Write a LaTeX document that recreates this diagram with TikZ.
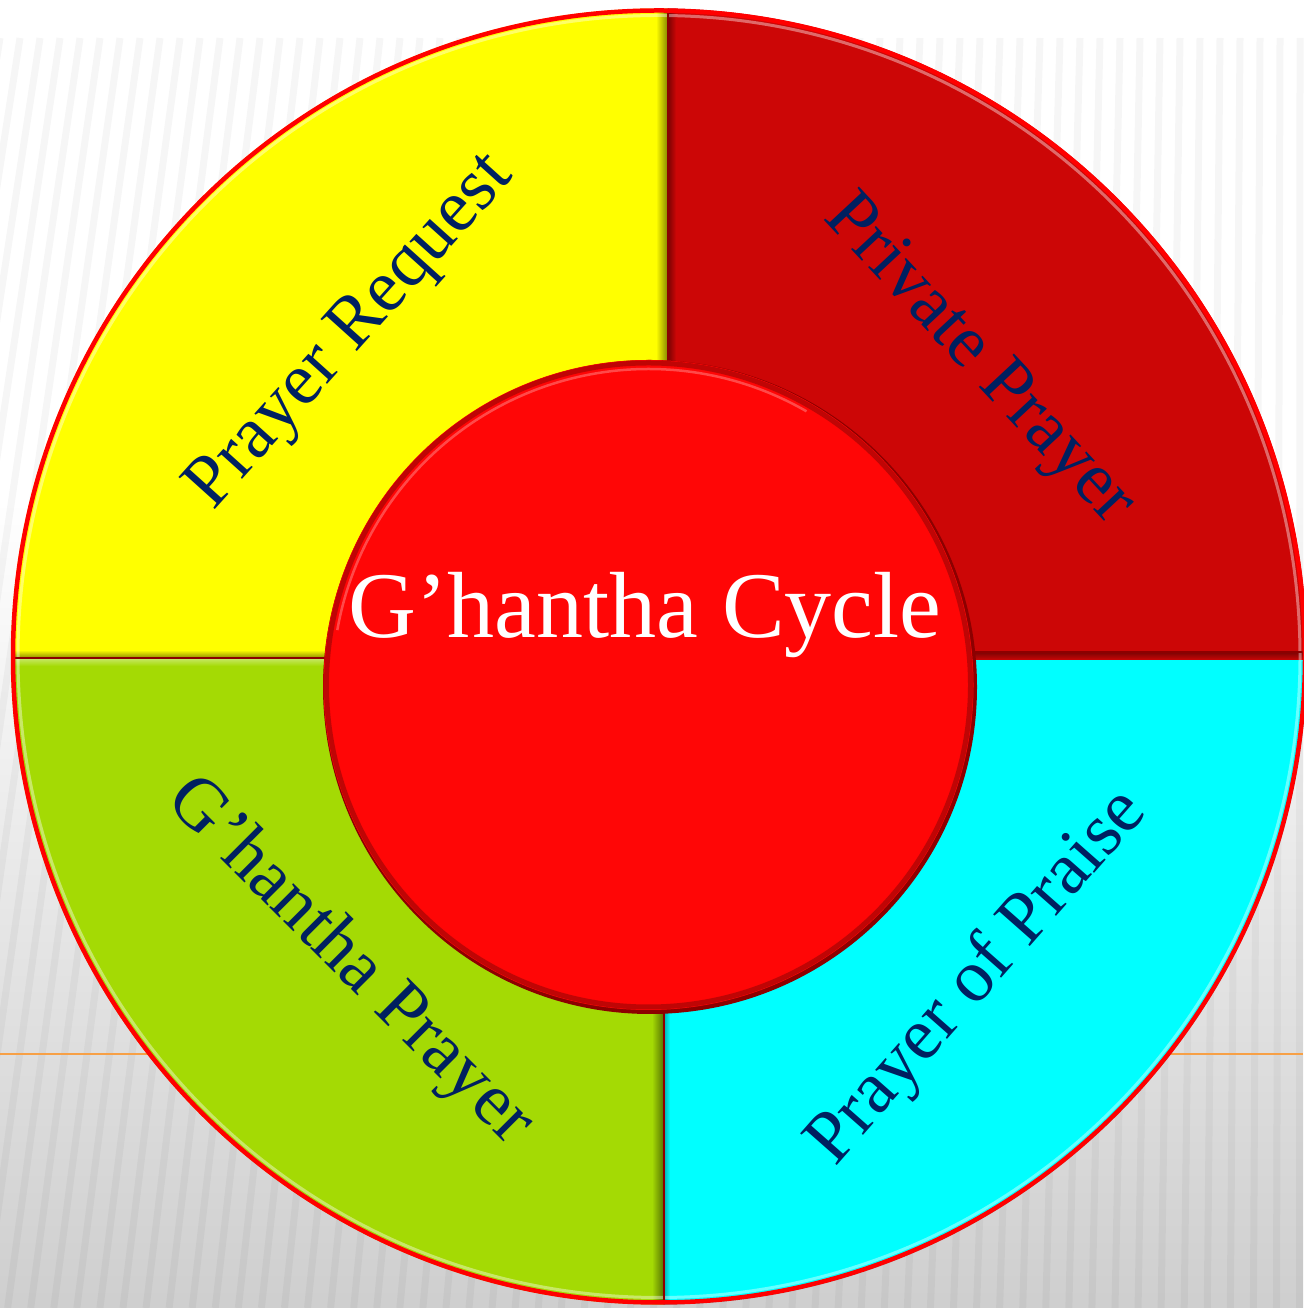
\documentclass[tikz,border=0pt]{standalone}
\usepackage{fontspec}
\setmainfont{Liberation Serif}
\definecolor{cyel}{RGB}{255,255,0}
\definecolor{cdred}{RGB}{204,6,6}
\definecolor{cgreen}{RGB}{164,218,4}
\definecolor{ccyan}{RGB}{0,255,255}
\definecolor{cred}{RGB}{255,6,6}
\definecolor{navy}{RGB}{0,32,96}
\definecolor{corange}{RGB}{247,160,70}
\definecolor{cdiv}{RGB}{140,0,0}
\begin{document}
\begin{tikzpicture}[x=1pt,y=1pt,
  lbl/.style={text=navy,font=\fontsize{74}{86}\selectfont,inner sep=0pt},
  divline/.style={cdiv,line width=2.5pt},
  stripe/.style={black,opacity=0.035,line width=7pt}]
\useasboundingbox (0,0) rectangle (1303,1308);
% background
\fill[white] (0,808) rectangle (1303,1308);
\shade[top color=white,bottom color=black!19] (0,0) rectangle (1303,808.5);
\foreach \i in {0,...,75}{
  \pgfmathsetmacro\xx{\i*20}
  \pgfmathsetmacro\xb{\xx-200*(1-\xx/1303)}
  \draw[stripe] (\xx,1270) -- (\xb,0);
}
\draw[corange,line width=1.5pt] (0,254) -- (1303,254);
% outer wedges
\coordinate (oc) at (659,651.5);
\begin{scope}
  \clip (oc) circle (648);
  \fill[cyel] (0,650) rectangle (668,1308);
  \fill[cdred] (668,656) rectangle (1310,1308);
  \fill[cgreen] (0,0) rectangle (664,650);
  \fill[ccyan] (664,0) rectangle (1310,656);
  % bevel shading near dividers
  \shade[left color=cyel,right color=cyel!55!black] (656,650) rectangle (667,1308);
  \shade[top color=cyel,bottom color=cyel!55!black] (0,650) rectangle (660,658);
  \shade[left color=cdred!60!black,right color=cdred] (668,656) rectangle (676,1308);
  \shade[top color=cdred!60!black,bottom color=cdred] (668,648) rectangle (1310,656);
  \shade[left color=cgreen,right color=cgreen!55!black] (652,0) rectangle (663,650);
  \shade[top color=cgreen!60!white,bottom color=cgreen] (0,642) rectangle (664,650);
  \shade[left color=ccyan!70!black,right color=ccyan] (664,0) rectangle (670,656);
  % light rim inside outer edge
  \draw[white,opacity=0.4,line width=3pt] (oc) circle (641);
  % dividers
  \draw[divline] (668,1308) -- (668,651.5);
  \draw[divline] (664,0) -- (664,651.5);
  \draw[divline] (0,650) -- (659,650);
  \draw[divline] (659,656) -- (1310,656);
\end{scope}
\draw[red,line width=4.5pt] (oc) circle (646);
% inner circle
\coordinate (ic) at (648.5,623);
\fill[cdiv] (650,621) circle (327);
\fill[cred] (ic) circle (325);
\draw[cred!75!black,line width=5pt] (ic) circle (322);
\draw[cred!55!white,opacity=0.6,line width=2.5pt] (ic) ++(60:316) arc (60:170:316);
% labels
\node[lbl,rotate=48] (req) at (352,975) {Prayer Request};
\node[lbl,rotate=-47] (priv) at (978,947) {Private Prayer};
\node[lbl,rotate=-45] (gpr) at (349,346) {G’hantha Prayer};
\node[lbl,rotate=48.6] (praise) at (978,330) {Prayer of Praise};
\node[text=white,font=\fontsize{94}{104}\selectfont,anchor=base,inner sep=0pt] (cyc) at (645,670) {G’hantha Cycle};
\end{tikzpicture}
\end{document}
